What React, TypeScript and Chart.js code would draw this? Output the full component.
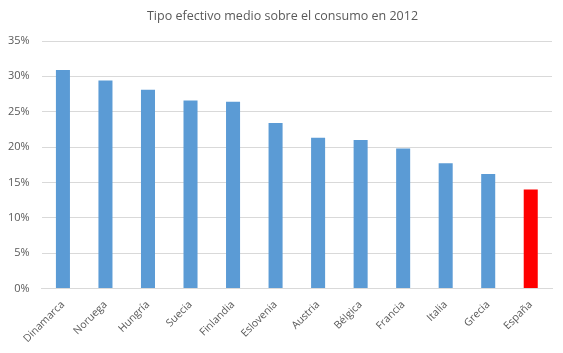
import React, { useEffect, useRef } from "react";
import { Chart, registerables } from "chart.js";

Chart.register(...registerables);

const categories = ["Dinamarca", "Noruega", "Hungría", "Suecia", "Finlandia", "Eslovenia", "Austria", "Bélgica", "Francia", "Italia", "Grecia", "España"];
const values = [30.9, 29.4, 28.1, 26.6, 26.4, 23.4, 21.3, 21.0, 19.8, 17.7, 16.2, 14.0];
const barColors = ["#5b9bd5", "#5b9bd5", "#5b9bd5", "#5b9bd5", "#5b9bd5", "#5b9bd5", "#5b9bd5", "#5b9bd5", "#5b9bd5", "#5b9bd5", "#5b9bd5", "#ff0000"];
const titleText = "Tipo efectivo medio sobre el consumo en 2012";

const centeredTitle = {
  id: "centeredTitle",
  afterDraw(chart: any) {
    const ctx = chart.ctx;
    ctx.save();
    ctx.font = "12.5px 'Open Sans', sans-serif";
    ctx.fillStyle = "#595959";
    ctx.textAlign = "center";
    ctx.textBaseline = "middle";
    ctx.fillText(titleText, chart.width / 2 + 1, 16);
    ctx.restore();
  },
};

export default function App() {
  const ref = useRef<HTMLCanvasElement>(null);
  useEffect(() => {
    const chart = new Chart(ref.current!, {
      type: "bar",
      data: {
        labels: categories,
        datasets: [{ data: values, backgroundColor: barColors, barPercentage: 0.33, categoryPercentage: 1 }],
      },
      options: {
        animation: false,
        responsive: false,
        layout: { padding: { left: -4, right: 11, top: 41, bottom: 6 } },
        plugins: {
          legend: { display: false },
          tooltip: { enabled: false },
          title: { display: false },
        },
        scales: {
          x: {
            grid: { display: false },
            border: { color: "#d9d9d9" },
            ticks: {
              color: "#595959",
              font: { family: "'Open Sans', sans-serif", size: 10.5 },
              maxRotation: 45,
              minRotation: 45,
              padding: 2,
            },
          },
          y: {
            min: 0,
            max: 35,
            grid: { color: "#d9d9d9", drawTicks: false },
            border: { display: false },
            ticks: {
              stepSize: 5,
              color: "#595959",
              font: { family: "'Open Sans', sans-serif", size: 11 },
              padding: 12,
              callback: (v) => v + "%",
            },
          },
        },
      },
      plugins: [centeredTitle],
    });
    return () => chart.destroy();
  }, []);
  return (
    <div style={{ position: "fixed", left: 0, top: 0, width: 563, height: 353, background: "#fff" }}>
      <canvas ref={ref} width={563} height={353} />
    </div>
  );
}
